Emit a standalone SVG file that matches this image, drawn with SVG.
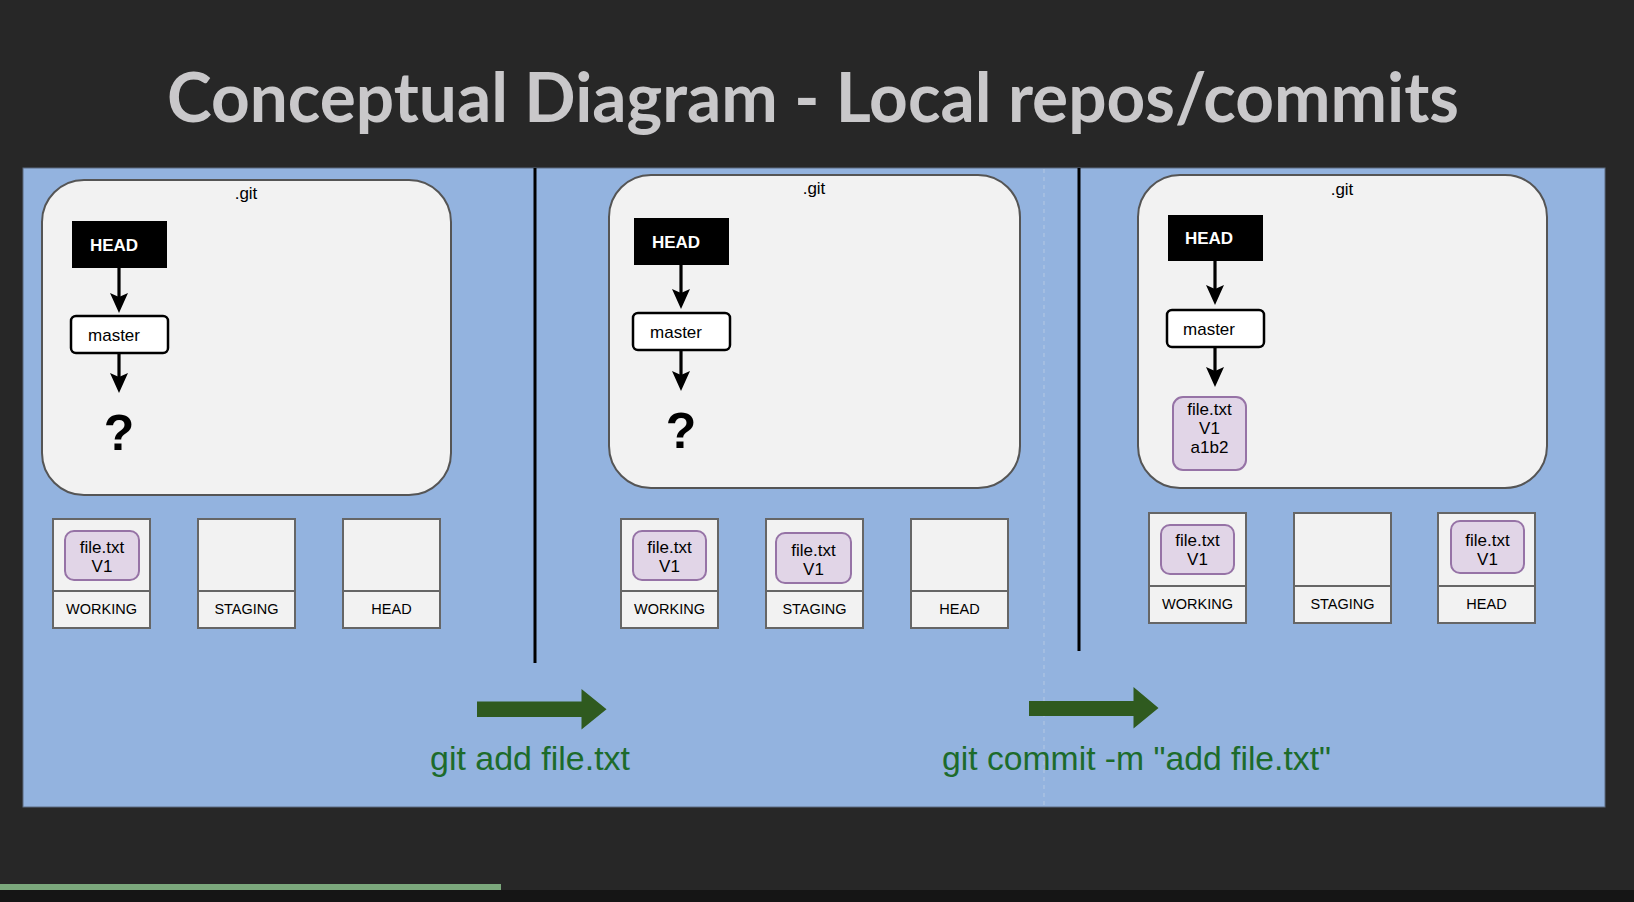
<svg xmlns="http://www.w3.org/2000/svg" width="1634" height="902" viewBox="0 0 1634 902">
<style>
.bg{fill:#272727}
.panel{fill:#93b3df;stroke:#5d6b80;stroke-width:1}
.gitbox{fill:#f2f2f2;stroke:#555;stroke-width:2}
.head{fill:#000}
.master{fill:#fff;stroke:#000;stroke-width:2.5}
.area{fill:#f2f2f2;stroke:#666;stroke-width:2}
.chip{fill:#e1d5e7;stroke:#9673a6;stroke-width:2}
.t{font-family:"Liberation Sans",Arial,Helvetica,sans-serif;fill:#000;text-anchor:middle}
.lbl{font-size:14.5px}
.sm{font-size:17px}
.hd{font-size:17px;font-weight:bold;fill:#fff}
.q{font-size:50px;font-weight:bold}
.conn line{stroke:#000;stroke-width:3.2}
.garrow{fill:#2f5a1f}
.gtext{font-family:"Liberation Sans",Arial,Helvetica,sans-serif;fill:#1d6b2b;font-size:33.5px;text-anchor:middle}
.divider{stroke:#000;stroke-width:3}
</style>
<defs>
<marker id="ah" viewBox="0 -10 21 20" refX="4" refY="0" markerWidth="21" markerHeight="20" markerUnits="userSpaceOnUse" orient="auto">
<path d="M20,0 L0,-9 L4,0 L0,9 Z" fill="#000"/>
</marker>
</defs>
<rect class="bg" x="0" y="0" width="1634" height="902"/>
<rect x="0" y="890" width="1634" height="12" fill="#151515"/>
<rect x="0" y="884" width="501" height="6" fill="#7ba87c"/>
<text x="813" y="122" font-family="Lato,'Open Sans',sans-serif" font-weight="bold" font-size="68" fill="#c9c8ca" text-anchor="middle" textLength="1292" lengthAdjust="spacingAndGlyphs">Conceptual Diagram - Local repos/commits</text>
<rect class="panel" x="23" y="168" width="1582" height="639"/>
<line x1="1044" y1="169" x2="1044" y2="806" stroke="#c4d2e6" stroke-width="1" stroke-dasharray="4 4" opacity="0.7"/>
<line class="divider" x1="535" y1="168" x2="535" y2="663"/>
<line class="divider" x1="1079" y1="168" x2="1079" y2="651"/>

<g id="p1-git"><rect class="gitbox" x="42" y="180" width="409" height="315" rx="42"/><text class="t sm" x="246" y="199">.git</text></g>
<g id="p1-head"><rect class="head" x="72" y="221" width="95" height="47"/><text class="t hd" x="114" y="251">HEAD</text></g>
<g id="p1-master"><rect class="master" x="71" y="316" width="97" height="37" rx="5"/><text class="t sm" x="114" y="341">master</text></g>
<g id="p1-q"><text class="t q" x="119" y="450">?</text></g>
<g id="p1-working"><rect class="area" x="53" y="519" width="97" height="109"/><line x1="53" y1="591" x2="150" y2="591" stroke="#666" stroke-width="2"/><text class="t lbl" x="101.5" y="614">WORKING</text>
<rect class="chip" x="65" y="531" width="74" height="49" rx="9"/><text class="t sm" x="102" y="553">file.txt</text><text class="t sm" x="102" y="572">V1</text></g>
<g id="p1-staging"><rect class="area" x="198" y="519" width="97" height="109"/><line x1="198" y1="591" x2="295" y2="591" stroke="#666" stroke-width="2"/><text class="t lbl" x="246.5" y="614">STAGING</text></g>
<g id="p1-headarea"><rect class="area" x="343" y="519" width="97" height="109"/><line x1="343" y1="591" x2="440" y2="591" stroke="#666" stroke-width="2"/><text class="t lbl" x="391.5" y="614">HEAD</text></g>

<g id="p2-git"><rect class="gitbox" x="609" y="175" width="411" height="313" rx="42"/><text class="t sm" x="814" y="194">.git</text></g>
<g id="p2-head"><rect class="head" x="634" y="218" width="95" height="47"/><text class="t hd" x="676" y="248">HEAD</text></g>
<g id="p2-master"><rect class="master" x="633" y="313" width="97" height="37" rx="5"/><text class="t sm" x="676" y="338">master</text></g>
<g id="p2-q"><text class="t q" x="681" y="448">?</text></g>
<g id="p2-working"><rect class="area" x="621" y="519" width="97" height="109"/><line x1="621" y1="591" x2="718" y2="591" stroke="#666" stroke-width="2"/><text class="t lbl" x="669.5" y="614">WORKING</text>
<rect class="chip" x="633" y="531" width="73" height="49" rx="9"/><text class="t sm" x="669.5" y="553">file.txt</text><text class="t sm" x="669.5" y="572">V1</text></g>
<g id="p2-staging"><rect class="area" x="766" y="519" width="97" height="109"/><line x1="766" y1="591" x2="863" y2="591" stroke="#666" stroke-width="2"/><text class="t lbl" x="814.5" y="614">STAGING</text>
<rect class="chip" x="776" y="533" width="75" height="50" rx="9"/><text class="t sm" x="813.5" y="556">file.txt</text><text class="t sm" x="813.5" y="575">V1</text></g>
<g id="p2-headarea"><rect class="area" x="911" y="519" width="97" height="109"/><line x1="911" y1="591" x2="1008" y2="591" stroke="#666" stroke-width="2"/><text class="t lbl" x="959.5" y="614">HEAD</text></g>

<g id="p3-git"><rect class="gitbox" x="1138" y="175" width="409" height="313" rx="42"/><text class="t sm" x="1342" y="195">.git</text></g>
<g id="p3-head"><rect class="head" x="1168" y="215" width="95" height="46"/><text class="t hd" x="1209" y="244">HEAD</text></g>
<g id="p3-master"><rect class="master" x="1167" y="310" width="97" height="37" rx="5"/><text class="t sm" x="1209" y="335">master</text></g>
<g id="p3-commit"><rect class="chip" x="1173" y="397" width="73" height="73" rx="10"/><text class="t sm" x="1209.5" y="415">file.txt</text><text class="t sm" x="1209.5" y="434">V1</text><text class="t sm" x="1209.5" y="453">a1b2</text></g>
<g id="p3-working"><rect class="area" x="1149" y="513" width="97" height="110"/><line x1="1149" y1="586" x2="1246" y2="586" stroke="#666" stroke-width="2"/><text class="t lbl" x="1197.5" y="609">WORKING</text>
<rect class="chip" x="1161" y="525" width="73" height="49" rx="9"/><text class="t sm" x="1197.5" y="546">file.txt</text><text class="t sm" x="1197.5" y="565">V1</text></g>
<g id="p3-staging"><rect class="area" x="1294" y="513" width="97" height="110"/><line x1="1294" y1="586" x2="1391" y2="586" stroke="#666" stroke-width="2"/><text class="t lbl" x="1342.5" y="609">STAGING</text></g>
<g id="p3-headarea"><rect class="area" x="1438" y="513" width="97" height="110"/><line x1="1438" y1="586" x2="1535" y2="586" stroke="#666" stroke-width="2"/><text class="t lbl" x="1486.5" y="609">HEAD</text>
<rect class="chip" x="1451" y="521" width="73" height="52" rx="9"/><text class="t sm" x="1487.5" y="546">file.txt</text><text class="t sm" x="1487.5" y="565">V1</text></g>

<g id="connectors" class="conn">
<line x1="119" y1="268" x2="119" y2="297" marker-end="url(#ah)"/>
<line x1="119" y1="353" x2="119" y2="377" marker-end="url(#ah)"/>
<line x1="681" y1="265" x2="681" y2="293" marker-end="url(#ah)"/>
<line x1="681" y1="350" x2="681" y2="375" marker-end="url(#ah)"/>
<line x1="1215" y1="261" x2="1215" y2="289" marker-end="url(#ah)"/>
<line x1="1215" y1="347" x2="1215" y2="371" marker-end="url(#ah)"/>
<path class="garrow" d="M477,701.5 L581.5,701.5 L581.5,689 L606.5,709.3 L581.5,729.5 L581.5,717 L477,717 Z"/>
<path class="garrow" d="M1029,701 L1133.5,701 L1133.5,687 L1158.5,708 L1133.5,728.5 L1133.5,716 L1029,716 Z"/>
</g>
<g id="labels">
<text class="gtext" x="530" y="770" textLength="200" lengthAdjust="spacingAndGlyphs">git add file.txt</text>
<text class="gtext" x="1136.5" y="770" textLength="389" lengthAdjust="spacingAndGlyphs">git commit -m "add file.txt"</text>
</g>
</svg>
